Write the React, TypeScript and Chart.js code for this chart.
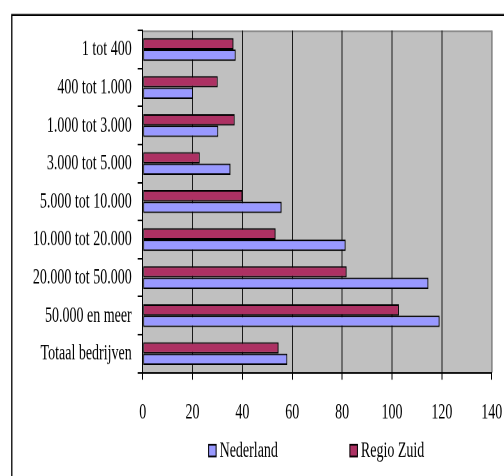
import React, { useEffect, useRef } from "react";
import { Chart, registerables } from "chart.js";

Chart.register(...registerables);

// ---- data ----
const categories = [
  "1 tot 400",
  "400 tot 1.000",
  "1.000 tot 3.000",
  "3.000 tot 5.000",
  "5.000 tot 10.000",
  "10.000 tot 20.000",
  "20.000 tot 50.000",
  "50.000 en meer",
  "Totaal bedrijven",
];
const nederland = [37.3, 20.2, 30.3, 35.2, 55.7, 81.4, 114.6, 119.1, 58.0];
const regioZuid = [36.4, 30.1, 36.9, 22.9, 40.0, 53.3, 81.8, 102.8, 54.5];
const seriesNames = ["Nederland", "Regio Zuid"];
const xMin = 0;
const xMax = 140;
const xStep = 20;

// ---- styling ----
const W = 504;
const H = 298;
const STRETCH = 476 / H;
const FONT_FAMILY = "'Liberation Serif', 'Times New Roman', serif";
const NL_COLOR = "#9999FF";
const RZ_COLOR = "#AD3163";

const framePlugin = {
  id: "framePlugin",
  beforeDraw(chart: any) {
    const { ctx, chartArea: ca } = chart;
    ctx.save();
    // outer frame (cropped: top and left edges visible)
    ctx.strokeStyle = "#000";
    ctx.lineWidth = 1.3;
    ctx.beginPath();
    ctx.moveTo(11.8, H + 2);
    ctx.lineTo(11.8, 9.4);
    ctx.lineTo(W + 2, 9.4);
    ctx.stroke();
    // plot area
    ctx.fillStyle = "#C0C0C0";
    ctx.fillRect(ca.left, ca.top, ca.right - ca.left, ca.bottom - ca.top);
    ctx.strokeStyle = "#8A8A8A";
    ctx.lineWidth = 1;
    ctx.beginPath();
    ctx.moveTo(ca.left, ca.top + 0.5);
    ctx.lineTo(ca.right + 0.5, ca.top + 0.5);
    ctx.lineTo(ca.right + 0.5, ca.bottom);
    ctx.stroke();
    ctx.restore();
  },
};

const legendPlugin = {
  id: "customLegend",
  afterDraw(chart: any) {
    const { ctx, chartArea: ca } = chart;
    const items = [
      { label: seriesNames[0], color: NL_COLOR },
      { label: seriesNames[1], color: RZ_COLOR },
    ];
    ctx.save();
    ctx.font = `14px ${FONT_FAMILY}`;
    const boxW = 8.5;
    const boxH = 8.3;
    const gap = 3;
    const spacing = 71.5;
    const widths = items.map((it) => boxW + gap + ctx.measureText(it.label).width);
    const total = widths[0] + spacing + widths[1];
    let x = (ca.left + ca.right) / 2 - 1 - total / 2;
    const cy = 282.1;
    items.forEach((it, i) => {
      ctx.fillStyle = it.color;
      ctx.fillRect(x, cy - boxH / 2, boxW, boxH);
      ctx.strokeStyle = "#000";
      ctx.lineWidth = 1;
      ctx.strokeRect(x + 0.5, cy - boxH / 2 + 0.5, boxW - 1, boxH - 1);
      ctx.fillStyle = "#000";
      ctx.textBaseline = "middle";
      ctx.textAlign = "left";
      ctx.fillText(it.label, x + boxW + gap, cy);
      x += widths[i] + spacing;
    });
    ctx.restore();
  },
};

export default function App() {
  const ref = useRef<HTMLCanvasElement | null>(null);

  useEffect(() => {
    if (!ref.current) return;
    const font = { family: FONT_FAMILY, size: 14 };
    const chart = new Chart(ref.current, {
      type: "bar",
      data: {
        labels: categories,
        datasets: [
          {
            label: seriesNames[1],
            data: regioZuid,
            backgroundColor: RZ_COLOR,
            borderColor: "#000",
            borderWidth: 1,
            borderSkipped: false,
            categoryPercentage: 0.6,
            barPercentage: 1,
          },
          {
            label: seriesNames[0],
            data: nederland,
            backgroundColor: NL_COLOR,
            borderColor: "#000",
            borderWidth: 1,
            borderSkipped: false,
            categoryPercentage: 0.6,
            barPercentage: 1,
          },
        ],
      },
      options: {
        indexAxis: "y",
        responsive: false,
        animation: false,
        devicePixelRatio: 2,
        layout: { padding: { top: 19.1, right: 12.3, bottom: 0, left: 0 } },
        plugins: {
          legend: { display: false },
          tooltip: { enabled: false },
          title: { display: false },
        },
        scales: {
          x: {
            min: xMin,
            max: xMax,
            ticks: { stepSize: xStep, color: "#000", font, padding: 12 },
            grid: {
              color: (c: any) =>
                c.tick && c.tick.value === xMax ? "#8A8A8A" : "#1a1a1a",
              lineWidth: 1,
              tickColor: "#000",
              tickLength: 4.5,
              drawTicks: true,
            },
            border: { color: "#000", width: 1 },
            afterFit: (s: any) => {
              s.height = H - 233.3;
              s.paddingLeft = 0;
              s.paddingRight = 0;
            },
          },
          y: {
            ticks: { color: "#000", font, padding: 6 },
            grid: {
              drawOnChartArea: false,
              tickColor: "#000",
              tickLength: 5,
              offset: true,
            },
            border: { color: "#000", width: 1 },
            afterFit: (s: any) => {
              s.width = 142.7;
              s.paddingTop = 0;
              s.paddingBottom = 0;
            },
          },
        },
      } as any,
      plugins: [framePlugin, legendPlugin],
    });
    return () => chart.destroy();
  }, []);

  return (
    <canvas
      ref={ref}
      width={W}
      height={H}
      style={{
        position: "absolute",
        left: 0,
        top: 0,
        width: `${W}px`,
        height: `${H}px`,
        transform: `scaleY(${STRETCH})`,
        transformOrigin: "0 0",
        background: "#fff",
      }}
    />
  );
}
